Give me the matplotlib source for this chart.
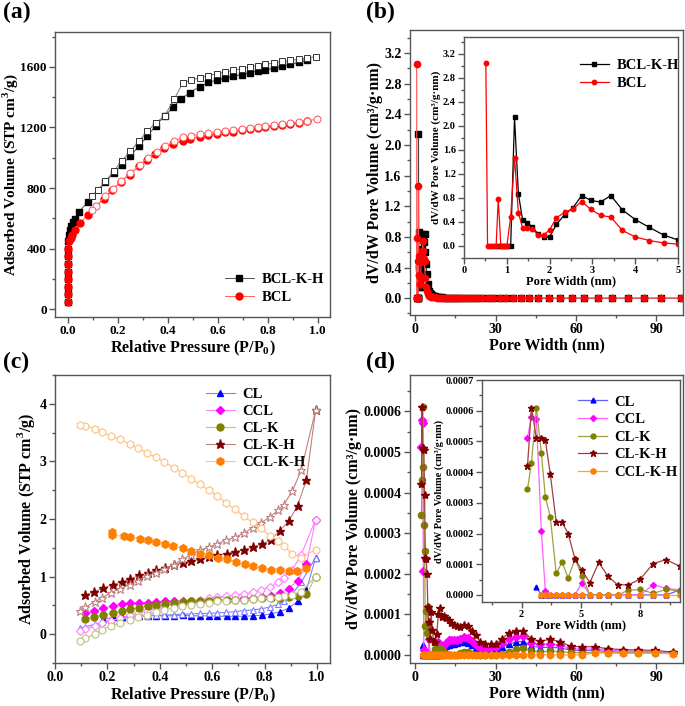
import numpy as np
import matplotlib
matplotlib.use('Agg')
import matplotlib.pyplot as plt
from matplotlib.ticker import MultipleLocator, FormatStrFormatter, FixedLocator

plt.rcParams['font.family'] = ['Liberation Serif', 'DejaVu Serif']
plt.rcParams['font.weight'] = 'bold'
plt.rcParams['axes.labelweight'] = 'bold'
plt.rcParams['mathtext.fontset'] = 'custom'
plt.rcParams['mathtext.rm'] = 'Liberation Serif:bold'
plt.rcParams['mathtext.bf'] = 'Liberation Serif:bold'

# ---------------- (a) N2 isotherms of BCL-K-H and BCL ----------------
bclkh_ads_p = [0, 0, 0, 0, 0, 0, 0, 0, 0.001, 0.005, 0.010, 0.015, 0.021, 0.028,
               0.044, 0.081, 0.151, 0.184, 0.217, 0.251, 0.284, 0.319, 0.352, 0.388,
               0.421, 0.455, 0.488, 0.530, 0.563, 0.597, 0.630, 0.663, 0.696, 0.730,
               0.760, 0.790, 0.824, 0.858, 0.890, 0.925, 0.958]
bclkh_ads_v = [50, 100, 150, 200, 250, 300, 350, 400, 450, 490, 525, 550, 575, 598,
               640, 709, 838, 900, 952, 1011, 1075, 1141, 1211, 1273,
               1332, 1389, 1430, 1470, 1497, 1512, 1525, 1538, 1549, 1562,
               1571, 1580, 1590, 1603, 1616, 1629, 1644]
bclkh_des_p = [0.995, 0.958, 0.925, 0.890, 0.858, 0.824, 0.790, 0.760, 0.730, 0.696,
               0.663, 0.630, 0.597, 0.563, 0.530, 0.493, 0.460, 0.427, 0.388, 0.352,
               0.319, 0.284, 0.251, 0.217, 0.184, 0.151, 0.122, 0.099]
bclkh_des_v = [1668, 1658, 1651, 1642, 1636, 1625, 1616, 1607, 1599, 1588,
               1577, 1566, 1555, 1542, 1527, 1514, 1492, 1386, 1277, 1229,
               1174, 1108, 1042, 980, 910, 845, 790, 750]
bcl_ads_p = [0, 0, 0, 0, 0, 0, 0, 0, 0.004, 0.012, 0.019, 0.029, 0.048, 0.081,
             0.145, 0.179, 0.212, 0.248, 0.284, 0.317, 0.350, 0.384, 0.420, 0.460,
             0.490, 0.530, 0.563, 0.597, 0.630, 0.663, 0.696, 0.730, 0.760, 0.790,
             0.824, 0.858, 0.890, 0.925, 0.958]
bcl_ads_v = [50, 100, 150, 200, 250, 300, 350, 400, 450, 472, 494, 522, 570, 621,
             728, 785, 838, 888, 943, 987, 1024, 1064, 1090, 1108,
             1124, 1137, 1150, 1158, 1167, 1173, 1182, 1189, 1195, 1204,
             1210, 1219, 1225, 1232, 1240]
bcl_des_p = [0.998, 0.958, 0.925, 0.890, 0.858, 0.824, 0.790, 0.760, 0.730, 0.696,
             0.663, 0.630, 0.597, 0.563, 0.530, 0.493, 0.460, 0.427, 0.390, 0.357,
             0.320, 0.288, 0.250, 0.215, 0.182, 0.150, 0.115, 0.099]
bcl_des_v = [1255, 1244, 1236, 1229, 1223, 1216, 1210, 1204, 1198, 1192,
             1186, 1180, 1172, 1164, 1155, 1146, 1137, 1108, 1075, 1038,
             999, 951, 900, 848, 797, 745, 684, 658]

# ---------------- (b) pore size distribution BCL-K-H / BCL ----------------
pw_b = [0.51, 0.55, 0.60, 0.65, 0.70, 0.75, 0.80, 0.86, 0.93, 1.00, 1.09, 1.18,
        1.27, 1.37, 1.48, 1.60, 1.73, 1.86, 2.00, 2.16, 2.35, 2.55, 2.75, 2.96,
        3.19, 3.43, 3.70, 4.00, 4.33, 4.67, 5.00, 5.40, 5.85, 6.30, 6.80, 7.35,
        7.95, 8.60, 9.30, 10.0, 10.8, 11.7, 12.6, 13.6, 14.7, 15.9, 17.2, 18.6,
        20.0, 21.5, 23.2, 25.0, 27.0, 29.0, 31.5, 34.0, 36.5, 39.5, 42.5, 46.0,
        49.8, 54.2, 58.5, 63.2, 68.1, 73.6, 79.3, 85.5, 91.9, 99.3]
psd_bclkh = [np.nan, np.nan, np.nan, np.nan, np.nan, np.nan, 0, 0, 0, 0, 0, 2.14,
             0.87, 0.43, 0.39, 0.31, 0.20, 0.15, 0.15, 0.36, 0.52, 0.64, 0.84, 0.76,
             0.73, 0.84, 0.60, 0.44, 0.31, 0.18, 0.10, 0.07, 0.05, 0.04, 0.03, 0.025,
             0.02, 0.015, 0.012, 0.010, 0.008, 0.007, 0.006, 0.005, 0.004, 0.004, 0.003, 0.003,
             0.002, 0.002, 0.002, 0.001, 0.001, 0.001, 0.001, 0, 0, 0, 0, 0,
             0, 0, 0, 0, 0, 0, 0, 0, 0, 0]
psd_bcl = [3.05, 0, 0, 0, 0, 0, 0.78, 0, 0, 0, 0.48, 1.47,
           0.55, 0.30, 0.30, 0.28, 0.18, 0.18, 0.27, 0.47, 0.56, 0.62, 0.74, 0.61,
           0.51, 0.48, 0.26, 0.15, 0.09, 0.05, 0.03, 0.025, 0.02, 0.015, 0.012, 0.010,
           0.008, 0.006, 0.005, 0.004, 0.004, 0.003, 0.003, 0.002, 0.002, 0.002, 0.001, 0.001,
           0.001, 0.001, 0, 0, 0, 0, 0, 0, 0, 0, 0, 0,
           0, 0, 0, 0, 0, 0, 0, 0, 0, 0]

# ---------------- (c) isotherms of CL series ----------------
p_ads = [0.115, 0.150, 0.185, 0.220, 0.255, 0.287, 0.320, 0.355, 0.387, 0.420,
         0.455, 0.487, 0.520, 0.555, 0.587, 0.620, 0.655, 0.687, 0.720, 0.755,
         0.790, 0.823, 0.858, 0.892, 0.926, 0.960, 0.995]
p_des = [0.995, 0.940, 0.906, 0.873, 0.853, 0.820, 0.785, 0.754, 0.720, 0.686,
         0.653, 0.620, 0.587, 0.554, 0.520, 0.486, 0.453, 0.418, 0.384, 0.350,
         0.317, 0.285, 0.250, 0.212, 0.180, 0.151, 0.116, 0.095]
cl_ads = [np.nan, np.nan, 0.26, 0.29, 0.29, 0.31, 0.31, 0.32, 0.32, 0.32,
          0.32, 0.33, 0.32, 0.32, 0.32, 0.31, 0.31, 0.31, 0.31, 0.32,
          0.33, 0.35, 0.39, 0.45, 0.57, 0.77, 1.33]
cl_des = [1.33, 0.90, 0.70, 0.57, 0.52, 0.47, 0.44, 0.42, 0.41, 0.39,
          0.38, 0.37, 0.36, 0.36, 0.35, 0.35, 0.34, 0.33, 0.33, 0.32,
          0.31, 0.29, 0.27, 0.24, 0.21, 0.17, 0.13, 0.10]
ccl_ads = [0.36, 0.41, 0.45, 0.49, 0.52, 0.54, 0.55, 0.55, 0.56, 0.57,
           0.57, 0.57, 0.58, 0.58, 0.59, 0.59, 0.60, 0.61, 0.62, 0.63,
           0.65, 0.67, 0.71, 0.79, 0.93, 1.21, 1.99]
ccl_des = [1.99, 1.38, 1.12, 0.98, 0.90, 0.82, 0.77, 0.73, 0.70, 0.68,
           0.66, 0.64, 0.62, 0.60, 0.58, 0.56, 0.53, 0.49, 0.45, 0.41,
           0.37, 0.33, 0.28, 0.23, 0.19, 0.14, 0.09, 0.06]
clk_ads = [0.26, 0.30, 0.33, 0.37, 0.40, 0.43, 0.46, 0.49, 0.51, 0.53,
           0.55, 0.56, 0.57, 0.58, 0.58, 0.59, 0.59, 0.60, 0.60, 0.61,
           0.62, 0.62, 0.63, 0.64, 0.66, 0.69, 1.00]
clk_des = [1.00, 0.74, 0.68, 0.66, 0.64, 0.63, 0.62, 0.61, 0.60, 0.59,
           0.58, 0.57, 0.55, 0.53, 0.51, 0.49, 0.46, 0.42, 0.38, 0.33,
           0.29, 0.24, 0.19, 0.14, 0.08, 0.00, -0.07, -0.12]
clkh_ads = [0.68, 0.74, 0.80, 0.86, 0.91, 0.96, 1.02, 1.06, 1.11, 1.15,
            1.20, 1.24, 1.27, 1.30, 1.34, 1.37, 1.40, 1.43, 1.47, 1.51,
            1.57, 1.63, 1.80, 1.96, 2.23, 2.68, 3.89]
clkh_des = [3.89, 2.85, 2.48, 2.25, 2.16, 2.03, 1.93, 1.85, 1.75, 1.68,
            1.63, 1.57, 1.51, 1.46, 1.38, 1.30, 1.20, 1.13, 1.07, 1.01,
            0.93, 0.86, 0.79, 0.72, 0.63, 0.56, 0.47, 0.41]
cclkh_ads_p = [0.219, 0.219, 0.262, 0.287, 0.323, 0.356, 0.386, 0.420, 0.452, 0.487,
               0.519, 0.554, 0.589, 0.622, 0.656, 0.690, 0.724, 0.756, 0.791, 0.823,
               0.858, 0.892, 0.924, 0.958]
cclkh_ads = [1.77, 1.72, 1.70, 1.69, 1.66, 1.63, 1.60, 1.57, 1.53, 1.49,
             1.45, 1.40, 1.37, 1.33, 1.30, 1.25, 1.21, 1.18, 1.15, 1.12,
             1.11, 1.10, 1.10, 1.15]
cclkh_des = [1.47, 1.33, 1.40, 1.53, 1.62, 1.71, 1.84, 1.94, 2.05, 2.17,
             2.28, 2.40, 2.50, 2.60, 2.70, 2.80, 2.89, 2.99, 3.07, 3.15,
             3.23, 3.30, 3.38, 3.44, 3.51, 3.57, 3.62, 3.64]

# ---------------- (d) pore size distribution of CL series ----------------
pw_d = [2.3, 2.5, 2.75, 3.0, 3.2, 3.45, 3.75, 4.05, 4.35, 4.7, 5.05, 5.45, 5.9,
        6.35, 6.85, 7.4, 8.0, 8.65, 9.3, 10.0, 10.8, 11.6, 12.5, 13.5, 14.5, 15.6,
        16.8, 18.1, 19.5, 21.0, 22.6, 24.3, 26.1, 28.1, 30.2, 32.5, 35.0, 37.6,
        40.4, 43.4, 46.7, 50.2, 54.0, 58.0, 62.4, 67.1, 72.1, 77.5, 83.3, 89.5, 96.2]
psd_cl = [np.nan, np.nan, 2.5e-5, 0, 0, 0, 0, 0, 0, 0, 0, 0, 0,
          0, 0, 0, 0, 0, 0, 1.6e-5, 2.0e-5, 2.2e-5, 2.5e-5, 2.6e-5, 2.8e-5, 3.0e-5,
          3.2e-5, 3.3e-5, 3.0e-5, 2.5e-5, 1.8e-5, 1.2e-5, 1.1e-5, 1.2e-5, 1.4e-5, 2.0e-5, 2.6e-5, 3.2e-5,
          3.3e-5, 2.2e-5, 1.8e-5, 1.9e-5, 1.7e-5, 1.2e-5, 1.0e-5, 1.1e-5, 8e-6, 7e-6, 7e-6, 6e-6, 4e-6]
psd_ccl = [5.12e-4, 5.8e-4, 5.72e-4, 2.08e-4, 1.3e-5, 0, 0, 0, 0, 0, 4.0e-5, 0, 0,
           0, 0, 0, 0, 3.3e-5, 2.2e-5, 1.6e-5, 2.5e-5, 3.0e-5, 3.6e-5, 3.6e-5, 3.7e-5, 3.7e-5,
           4.0e-5, 4.4e-5, 4.2e-5, 3.5e-5, 2.5e-5, 1.6e-5, 1.5e-5, 1.7e-5, 2.0e-5, 3.0e-5, 3.8e-5, 4.4e-5,
           4.6e-5, 3.0e-5, 2.6e-5, 2.8e-5, 2.4e-5, 1.6e-5, 1.4e-5, 1.5e-5, 1.1e-5, 1.0e-5, 9e-6, 8e-6, 5e-6]
psd_clk = [3.45e-4, 4.3e-4, 6.1e-4, 4.62e-4, 3.2e-4, 2.55e-4, 7.0e-5, 1.07e-4, 5.5e-5, 1.17e-4, 6.3e-5, 0, 0,
           0, 0, 1.5e-5, 1.8e-5, 5e-6, 1.8e-5, 1.2e-5, 8e-6, 3e-6, 0, 0, 0, 0,
           5e-6, 8e-6, 7e-6, 3e-6, 0, 0, 0, 0, 0, 3e-6, 8e-6, 1.4e-5,
           1.6e-5, 1.0e-5, 8e-6, 9e-6, 8e-6, 6e-6, 5e-6, 6e-6, 5e-6, 5e-6, 5e-6, 5e-6, 4e-6]
psd_clkh = [4.2e-4, 6.1e-4, 5.1e-4, 5.1e-4, 5.04e-4, 3.94e-4, 2.38e-4, 2.36e-4, 2.0e-4, 1.17e-4, 8.0e-5, 4.0e-5, 1.06e-4,
            6.2e-5, 3.3e-5, 3.3e-5, 5.2e-5, 1.02e-4, 1.15e-4, 9.3e-5, 9.5e-5, 9.0e-5, 8.5e-5, 7.8e-5, 7.4e-5, 7.0e-5,
            6.8e-5, 7.4e-5, 7.0e-5, 6.0e-5, 4.8e-5, 3.2e-5, 2.6e-5, 2.7e-5, 2.8e-5, 4.0e-5, 5.5e-5, 6.0e-5,
            6.0e-5, 3.8e-5, 3.4e-5, 3.8e-5, 3.3e-5, 2.1e-5, 2.0e-5, 2.0e-5, 1.5e-5, 1.3e-5, 1.2e-5, 1.1e-5, 7e-6]
psd_cclkh = [np.nan, np.nan, np.nan, 0, 0, 0, 0, 0, 0, 0, 0, 0, 0,
             0, 0, 0, 0, 0, 0, 0, 0, 0, 0, 0, 0, 0,
             0, 0, 0, 0, 0, 0, 0, 0, 0, 0, 0, 0,
             0, 0, 0, 0, 0, 0, 0, 5e-6, 5e-6, 4e-6, 4e-6, 4e-6, 3e-6]

SPINE = '#555555'


def style(ax, tick_fs, xmaj, xmin, ymaj, ymin, yfmt=None, xfmt=None):
    for s in ax.spines.values():
        s.set_linewidth(1.0)
        s.set_color(SPINE)
    ax.xaxis.set_major_locator(xmaj if not isinstance(xmaj, (int, float)) else MultipleLocator(xmaj))
    ax.xaxis.set_minor_locator(MultipleLocator(xmin))
    ax.yaxis.set_major_locator(MultipleLocator(ymaj))
    ax.yaxis.set_minor_locator(MultipleLocator(ymin))
    if yfmt:
        ax.yaxis.set_major_formatter(FormatStrFormatter(yfmt))
    if xfmt:
        ax.xaxis.set_major_formatter(FormatStrFormatter(xfmt))
    ax.tick_params(which='both', direction='out', top=False, right=False,
                   labelsize=tick_fs, width=1.0, color=SPINE, pad=2)
    ax.tick_params(which='major', length=4)
    ax.tick_params(which='minor', length=2)


fig = plt.figure(figsize=(6.85, 7.06), dpi=100)

LAB = 11.5
TICK = 10
LEG = 10.5

# ---- (a) ----
ax = fig.add_axes([0.0803, 0.551, 0.4015, 0.4037])
ax.plot(bclkh_ads_p, bclkh_ads_v, '-', color='#555555', lw=0.7, marker='s', ms=4.8,
        mfc='black', mec='black', label='BCL-K-H')
ax.plot(bclkh_des_p, bclkh_des_v, '-', color='#777777', lw=0.7, marker='s', ms=4.8,
        mfc='white', mec='#333333', mew=0.7)
ax.plot(bcl_ads_p, bcl_ads_v, '-', color='#ff6060', lw=0.7, marker='o', ms=5,
        mfc='red', mec='red', label='BCL')
ax.plot(bcl_des_p, bcl_des_v, '-', color='#ff8080', lw=0.7, marker='o', ms=5,
        mfc='white', mec='#ff5050', mew=0.7)
ax.set_xlim(-0.05, 1.05)
ax.set_ylim(-50, 1830)
style(ax, 9.5, 0.2, 0.1, 400, 200, xfmt='%.1f')
ax.set_xlabel('Relative Pressure (P/P$_{\\mathbf{0}}$)', fontsize=LAB, labelpad=1)
ax.set_ylabel('Adsorbed Volume (STP cm$^{\\mathbf{3}}$/g)', fontsize=11, labelpad=0)
ax.legend(loc='lower left', bbox_to_anchor=(0.57, 0.0), frameon=False, fontsize=LEG,
          handlelength=2.0, handletextpad=0.5, labelspacing=0.3)
fig.text(0.005, 0.982, '(a)', fontsize=17, fontweight='bold', va='center')

# ---- (b) ----
ax = fig.add_axes([0.5985, 0.5538, 0.3985, 0.4037])
ax.plot(pw_b, psd_bclkh, '-', color='#444444', lw=0.8, marker='s', ms=4.5,
        mfc='black', mec='black')
ax.plot(pw_b, psd_bcl, '-', color='#ff5050', lw=0.8, marker='o', ms=4.5,
        mfc='red', mec='red')
ax.set_xlim(-2, 100)
ax.set_ylim(-0.22, 3.5)
style(ax, TICK, 30, 15, 0.4, 0.2, yfmt='%.1f')
ax.set_xlabel('Pore Width (nm)', fontsize=LAB, labelpad=1)
ax.set_ylabel('dV/dW Pore Volume (cm³/g·nm)', fontsize=LAB, labelpad=1)
fig.text(0.535, 0.982, '(b)', fontsize=17, fontweight='bold', va='center')

ins = fig.add_axes([0.6774, 0.6346, 0.3124, 0.313])
ins.plot(pw_b, psd_bclkh, '-', color='black', lw=0.9, marker='s', ms=3.2,
         mfc='black', mec='black', label='BCL-K-H')
ins.plot(pw_b, psd_bcl, '-', color='red', lw=0.9, marker='o', ms=3.2,
         mfc='red', mec='red', label='BCL')
ins.set_xlim(0, 5)
ins.set_ylim(-0.2, 3.48)
style(ins, 7.5, 1, 0.5, 0.4, 0.2, yfmt='%.1f')
ins.set_xlabel('Pore Width (nm)', fontsize=9, labelpad=0)
ins.set_ylabel('dV/dW Pore Volume (cm³/g·nm)', fontsize=8, labelpad=1)
ins.legend(loc='upper left', bbox_to_anchor=(0.48, 0.96), frameon=False, fontsize=LEG,
           handlelength=2.0, handletextpad=0.5, labelspacing=0.3)

# ---- (c) ----
ax = fig.add_axes([0.0803, 0.0609, 0.4015, 0.408])
series_c = [
    ('CL', p_ads, cl_ads, p_des, cl_des, '^', '#0000ff', '#8080ff', 5),
    ('CCL', p_ads, ccl_ads, p_des, ccl_des, 'D', '#ff00ff', '#ff80ff', 4.2),
    ('CL-K', p_ads, clk_ads, p_des, clk_des, 'o', '#808000', '#c0c080', 5),
    ('CL-K-H', p_ads, clkh_ads, p_des, clkh_des, '*', '#800000', '#c08080', 6.5),
    ('CCL-K-H', cclkh_ads_p, cclkh_ads, p_des, cclkh_des, 'h', '#ff8000', '#ffc080', 5.5),
]
for name, pa, va, pd, vd, m, c, lc, ms in series_c:
    ax.plot(pa, va, '-', color=lc, lw=0.8, marker=m, ms=ms, mfc=c, mec=c, label=name)
    ax.plot(pd, vd, '-', color=lc, lw=0.8, marker=m, ms=ms, mfc='white', mec=lc, mew=0.8)
ax.set_xlim(0, 1.05)
ax.set_ylim(-0.5, 4.5)
style(ax, TICK, 0.2, 0.1, 1, 0.5, xfmt='%.1f', yfmt='%d')
ax.set_xlabel('Relative Pressure (P/P$_{\\mathbf{0}}$)', fontsize=LAB, labelpad=1)
ax.set_ylabel('Adsorbed Volume (STP cm$^{\\mathbf{3}}$/g)', fontsize=LAB, labelpad=2)
ax.legend(loc='upper left', bbox_to_anchor=(0.5, 1.0), frameon=False, fontsize=LEG,
          handlelength=2.0, handletextpad=0.5, labelspacing=0.25)
fig.text(0.005, 0.486, '(c)', fontsize=17, fontweight='bold', va='center')

# ---- (d) ----
series_d = [
    ('CL', psd_cl, '^', '#0000ff', '#6060ff', 4.5),
    ('CCL', psd_ccl, 'D', '#ff00ff', '#ff60ff', 4),
    ('CL-K', psd_clk, 'o', '#808000', '#a0a040', 4.5),
    ('CL-K-H', psd_clkh, '*', '#800000', '#a04040', 6),
    ('CCL-K-H', psd_cclkh, 'h', '#ff8000', '#ffa040', 5),
]
ax = fig.add_axes([0.5985, 0.0609, 0.3985, 0.408])
for name, v, m, c, lc, ms in series_d:
    ax.plot(pw_d, v, '-', color=lc, lw=0.9, marker=m, ms=ms, mfc=c, mec=c)
ax.set_xlim(-2, 100)
ax.set_ylim(-0.00002, 0.00069)
style(ax, TICK, 30, 15, 0.0001, 0.00005, yfmt='%.4f')
ax.set_xlabel('Pore Width (nm)', fontsize=LAB, labelpad=1)
ax.set_ylabel('dV/dW Pore Volume (cm³/g·nm)', fontsize=LAB, labelpad=1)
fig.text(0.535, 0.486, '(d)', fontsize=17, fontweight='bold', va='center')

ins = fig.add_axes([0.7036, 0.1473, 0.289, 0.3144])
for name, v, m, c, lc, ms in series_d:
    ins.plot(pw_d, v, '-', color=lc, lw=0.9, marker=m, ms=ms - 1, mfc=c, mec=c, label=name)
ins.set_xlim(0, 10)
ins.set_ylim(-0.000023, 0.0007)
style(ins, 7.5, FixedLocator([2, 5, 8]), 1.5, 0.0001, 0.00005, yfmt='%.4f', xfmt='%d')
ins.xaxis.set_minor_locator(FixedLocator([0.5, 3.5, 6.5, 9.5]))
ins.set_xlabel('Pore Width (nm)', fontsize=9, labelpad=0)
ins.set_ylabel('dV/dW Pore Volume (cm³/g·nm)', fontsize=7.5, labelpad=1)
ins.legend(loc='upper left', bbox_to_anchor=(0.42, 0.99), frameon=False, fontsize=LEG,
           handlelength=2.0, handletextpad=0.5, labelspacing=0.3)

fig.savefig('out.png', dpi=100)
